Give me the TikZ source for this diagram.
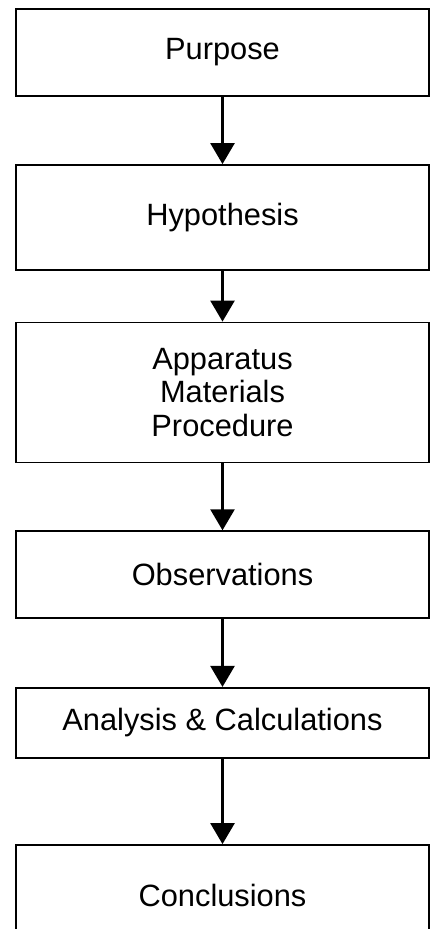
\documentclass[tikz,border=0pt]{standalone}
\usepackage{fontspec}
\setmainfont{Liberation Sans}
\usetikzlibrary{arrows.meta}

\begin{document}
\begin{tikzpicture}[x=0.5pt, y=-0.5pt,
    stage/.style={shape=rectangle, draw=black, line width=0.9pt, minimum width=206.5pt,
      align=center, font=\fontsize{15.4}{16.6}\selectfont, inner sep=0pt},
    flow/.style={line width=1.3pt, -{Triangle[width=12pt,length=10.5pt]}}]
      \useasboundingbox (0,0) rectangle (432,929);
      \clip (0,0) rectangle (432,929);
      \fill[white] (0,0) rectangle (432,929);

      \node[stage, minimum height=43.5pt] (purpose) at (222.5,52.5) {Purpose};
      \node[stage, minimum height=52.5pt] (hyp) at (222.5,217.5) {Hypothesis};
      \node[stage, minimum height=70pt] (method) at (222.5,392.5) {Apparatus\\Materials\\Procedure};
      \node[stage, minimum height=43.5pt] (obs) at (222.5,574.7) {Observations};
      \node[stage, minimum height=35pt] (calc) at (222.5,722.8) {Analysis \& Calculations};
      \node[stage, minimum height=50pt] (concl) at (222.5,895) {Conclusions};

      \path [flow]  (purpose) edge (hyp);
      \path [flow]  (hyp) edge (method);
      \path [flow]  (method) edge (obs);
      \path [flow]  (obs) edge (calc);
      \path [flow]  (calc) edge (concl);
    \end{tikzpicture}
\end{document}
